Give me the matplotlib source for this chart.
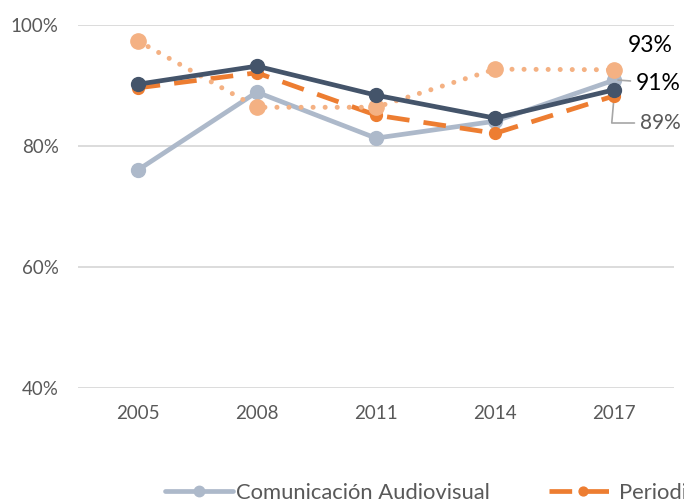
import matplotlib
matplotlib.use("Agg")
import matplotlib.pyplot as plt

plt.rcParams['font.family'] = ['Lato', 'DejaVu Sans']

years = ["2005", "2008", "2011", "2014", "2017"]
audiovisual = [76.0, 88.9, 81.3, 84.1, 90.9]
periodismo = [89.6, 92.1, 85.1, 82.1, 88.3]
serie_dotted = [97.4, 86.4, 86.4, 92.7, 92.6]
serie_navy = [90.2, 93.2, 88.4, 84.6, 89.3]
yticks = [40, 60, 80, 100]
ytick_labels = ["40%", "60%", "80%", "100%"]
labels_2017 = ["93%", "91%", "89%"]

fig = plt.figure(figsize=(6.84, 5.03), dpi=100)
ax = fig.add_axes([78/684, 1-388/503, (674-78)/684, (388-25)/503])

x = list(range(len(years)))
c_light = "#ADB9CA"
c_orange = "#ED7D31"
c_lorange = "#F4B183"
c_navy = "#44546A"

l1, = ax.plot(x, audiovisual, color=c_light, lw=3.4, marker="o", ms=10,
              solid_capstyle="round", zorder=3, label="Comunicación Audiovisual")
l2, = ax.plot(x, periodismo, color=c_orange, lw=3.4, marker="o", ms=8.5,
              linestyle=(0, (4.8, 3.0)), dash_capstyle="butt", zorder=4,
              label="Periodismo")
l3, = ax.plot(x, serie_dotted, color=c_lorange, lw=3.6, marker="o", ms=11,
              linestyle=(0, (0.01, 2.4)), dash_capstyle="round", zorder=5)
l4, = ax.plot(x, serie_navy, color=c_navy, lw=3.4, marker="o", ms=10,
              solid_capstyle="round", zorder=6)

ax.set_xlim(-0.5, len(years) - 0.5)
ax.set_ylim(40, 100)
ax.set_yticks(yticks)
ax.set_yticklabels(ytick_labels)
ax.set_xticks(x)
ax.set_xticklabels(years)
ax.tick_params(axis="both", length=0, labelsize=13.5, colors="#595959")
ax.tick_params(axis="y", pad=14)
ax.tick_params(axis="x", pad=12)
ax.grid(axis="y", color="#D9D9D9", lw=1.3)
ax.set_axisbelow(True)
for s in ax.spines.values():
    s.set_visible(False)

# data labels at 2017
xl = x[-1]
ax.annotate(labels_2017[0], xy=(xl, serie_dotted[-1]), xytext=(628, 503-46),
            textcoords="figure pixels", fontsize=16.5, color="black",
            va="center", ha="left", annotation_clip=False)
ax.annotate(labels_2017[1], xy=(xl + 0.03, audiovisual[-1]), xytext=(636, 503-83),
            textcoords="figure pixels", fontsize=16.5, color="black",
            va="center", ha="left", annotation_clip=False,
            arrowprops=dict(arrowstyle="-", color="#A6A6A6", lw=1.2,
                            shrinkA=2, shrinkB=0))
ax.annotate(labels_2017[2], xy=(xl, serie_navy[-1] - 0.5), xytext=(640, 503-123),
            textcoords="figure pixels", fontsize=15, color="#595959",
            va="center", ha="left", annotation_clip=False,
            arrowprops=dict(arrowstyle="-", color="#A6A6A6", lw=1.2,
                            shrinkA=2, shrinkB=0,
                            connectionstyle="angle,angleA=0,angleB=85,rad=0"))

fig.legend(handles=[l1, l2], loc="center left",
           bbox_to_anchor=(165/684, 1-493/503), ncol=2, frameon=False,
           fontsize=15.8, handlelength=3.1, handletextpad=0.12,
           columnspacing=2.7, borderpad=0, borderaxespad=0,
           markerscale=0.75, labelcolor="#595959")

fig.savefig("out.png", dpi=100)
